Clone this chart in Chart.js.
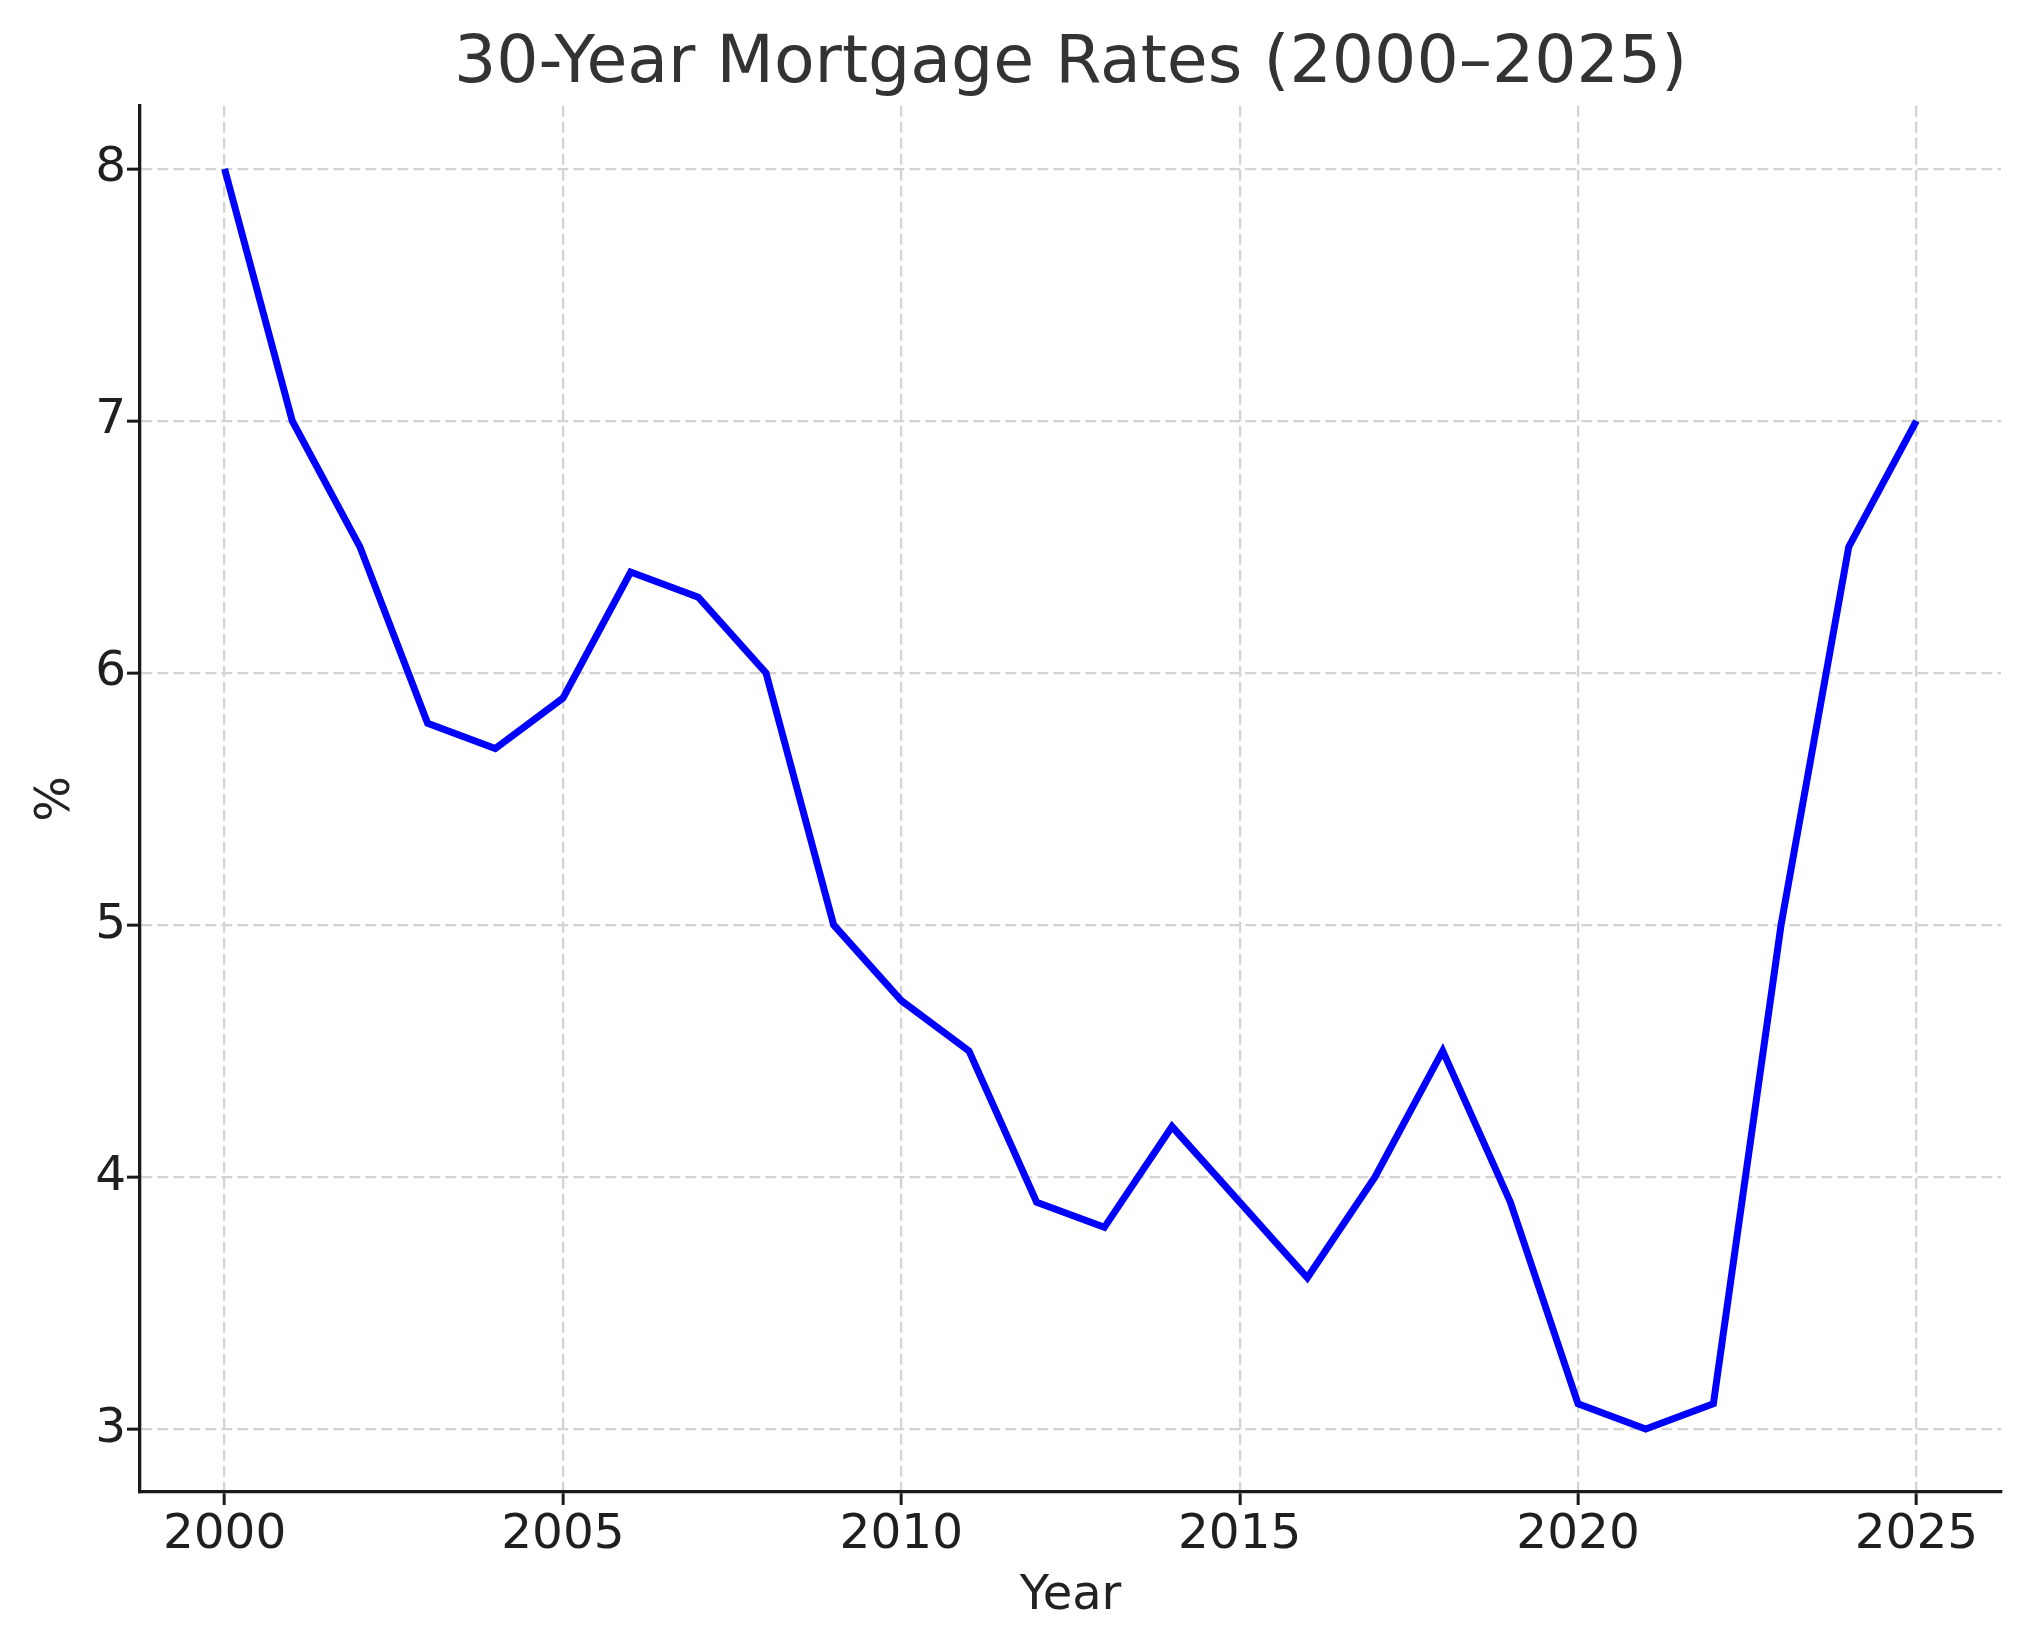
<!DOCTYPE html>
<html>
<head>
<meta charset="utf-8">
<script src="https://cdn.jsdelivr.net/npm/chart.js@4"></script>
<style>
html,body{margin:0;padding:0;background:#fff;}
#c{display:block;}
</style>
</head>
<body>
<canvas id="c" width="2031" height="1650"></canvas>
<script>
const years = [2000,2001,2002,2003,2004,2005,2006,2007,2008,2009,2010,2011,2012,2013,2014,2015,2016,2017,2018,2019,2020,2021,2022,2023,2024,2025];
const rates = [8.0,7.0,6.5,5.8,5.7,5.9,6.4,6.3,6.0,5.0,4.7,4.5,3.9,3.8,4.2,3.9,3.6,4.0,4.5,3.9,3.1,3.0,3.1,5.0,6.5,7.0];
const xTicks = [2000,2005,2010,2015,2020,2025];
const yTicks = [3,4,5,6,7,8];
const titleText = "30-Year Mortgage Rates (2000\u20132025)";
const xTitle = "Year";
const yTitle = "%";

const FONT = "'DejaVu Sans', 'Liberation Sans', sans-serif";
const xMin = years[0] - 0.05*(years[years.length-1]-years[0]);
const xMax = years[years.length-1] + 0.05*(years[years.length-1]-years[0]);
const yLo = Math.min(...rates), yHi = Math.max(...rates);
const yMin = yLo - 0.05*(yHi-yLo), yMax = yHi + 0.05*(yHi-yLo);

new Chart(document.getElementById('c'), {
  type: 'line',
  data: {
    datasets: [{
      data: years.map((y,i)=>({x:y, y:rates[i]})),
      borderColor: '#0000ff',
      borderWidth: 7,
      pointRadius: 0,
      tension: 0,
      fill: false,
      borderJoinStyle: 'miter',
      borderCapStyle: 'butt'
    }]
  },
  options: {
    responsive: false,
    animation: false,
    devicePixelRatio: 1,
    layout: {padding: {left:0, right:30, top:0, bottom:0}},
    plugins: {
      legend: {display:false},
      tooltip: {enabled:false},
      title: {
        display: true,
        text: titleText,
        color: '#333333',
        fullSize: false,
        font: {family: FONT, size: 66.5, weight: 'normal', lineHeight: 1.2},
        padding: {top: 25, bottom: 1}
      }
    },
    scales: {
      x: {
        type: 'linear',
        min: xMin, max: xMax,
        afterBuildTicks: s => { s.ticks = xTicks.map(v=>({value:v})); },
        afterFit: s => { s.height = 158; },
        ticks: {color:'#1f1f1f', font:{family:FONT, size:48.5}, padding: 1, maxRotation:0, autoSkip:false,
                callback: v => String(v)},
        grid: {color:'#d3d3d3', lineWidth:2.3, tickColor:'#1a1a1a', tickLength:13, tickWidth:3, tickBorderDash:[]},
        border: {display:true, color:'#1a1a1a', width:3.3, dash:[11,5]},
        title: {display:true, text:xTitle, color:'#222222', font:{family:FONT, size:48}, padding:{top:0,bottom:25}}
      },
      y: {
        type: 'linear',
        min: yMin, max: yMax,
        afterBuildTicks: s => { s.ticks = yTicks.map(v=>({value:v})); },
        afterFit: s => { s.width = 140; },
        ticks: {color:'#1f1f1f', font:{family:FONT, size:48.5}, padding: 1, callback: v => String(v)},
        grid: {color:'#d3d3d3', lineWidth:2.3, tickColor:'#1a1a1a', tickLength:13, tickWidth:3, tickBorderDash:[]},
        border: {display:true, color:'#1a1a1a', width:3.3, dash:[11,5]},
        title: {display:true, text:yTitle, color:'#222222', font:{family:FONT, size:48}, padding:{top:28,bottom:0}}
      }
    }
  }
});
</script>
</body>
</html>
